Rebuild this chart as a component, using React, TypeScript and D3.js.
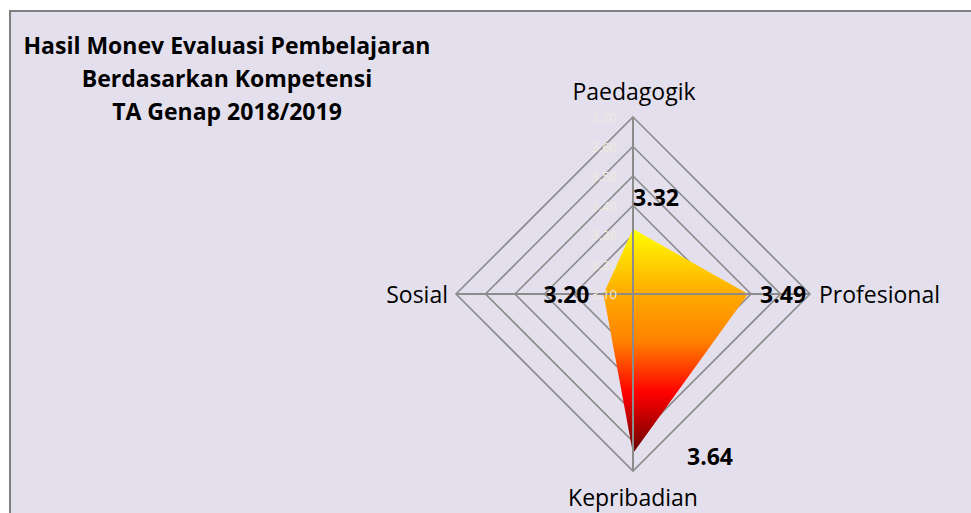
import React from "react";
import * as d3 from "d3";

const categories = ["Paedagogik", "Profesional", "Kepribadian", "Sosial"];
const values = [3.32, 3.49, 3.64, 3.2];
const valueLabels = ["3.32", "3.49", "3.64", "3.20"];
const ticks = [3.1, 3.2, 3.3, 3.4, 3.5, 3.6, 3.7];
const titleLines = ["Hasil Monev Evaluasi Pembelajaran", "Berdasarkan Kompetensi", "TA Genap 2018/2019"];

const W = 971;
const H = 513;
const cx = 633;
const cy = 294;
const R = 177;

export default function App() {
  const r = d3.scaleLinear().domain([3.1, 3.7]).range([0, R]);
  const angle = d3
    .scalePoint<string>()
    .domain(categories)
    .range([0, 2 * Math.PI * (categories.length - 1) / categories.length]);
  const pt = (cat: string, v: number): [number, number] => {
    const a = angle(cat)!;
    return [cx + r(v) * Math.sin(a), cy - r(v) * Math.cos(a)];
  };
  const lineGen = d3.line().curve(d3.curveLinearClosed);
  const grid = ticks.filter((t) => t > 3.1);

  const dataPts = categories.map((c, i) => pt(c, values[i]));

  const dataLabelPos: [number, number][] = [
    [dataPts[0][0] + 23, dataPts[0][1] - 32],
    [dataPts[1][0] + 35, dataPts[1][1]],
    [dataPts[2][0] + 77, dataPts[2][1] + 3],
    [dataPts[3][0] - 37, dataPts[3][1]],
  ];
  const catPos: [number, number, string][] = [
    [cx + 1, cy - R - 26, "middle"],
    [cx + R + 9, cy, "start"],
    [cx, cy + R + 26, "middle"],
    [cx - R - 8, cy, "end"],
  ];

  return (
    <svg
      width={W}
      height={H}
      style={{ position: "absolute", left: 0, top: 0, display: "block" }}
      fontFamily="'Open Sans', Lato, sans-serif"
    >
      <defs>
        <linearGradient id="fillGrad" x1="0" y1="0" x2="0" y2="1">
          <stop offset="0" stopColor="#FFFF00" />
          <stop offset="0.29" stopColor="#FFAA00" />
          <stop offset="0.5" stopColor="#FF8200" />
          <stop offset="0.73" stopColor="#FF0000" />
          <stop offset="1" stopColor="#660000" />
        </linearGradient>
      </defs>
      <rect x={0} y={0} width={W} height={H} fill="#ffffff" />
      <rect x={10} y={11} width={W + 10} height={H + 10} fill="#E4DFEC" stroke="#7f7f7f" strokeWidth={2} />

      {titleLines.map((t, i) => (
        <text
          key={t}
          x={227}
          y={45 + i * 33}
          textAnchor="middle"
          dominantBaseline="central"
          fontWeight="bold"
          fontSize={23}
          fill="#000"
        >
          {t}
        </text>
      ))}

      {grid.map((t) => (
        <path
          key={t}
          d={lineGen(categories.map((c) => pt(c, t)))!}
          fill="none"
          stroke="#8c8c8c"
          strokeWidth={1.6}
        />
      ))}

      <path d={lineGen(dataPts)!} fill="url(#fillGrad)" stroke="none" />

      {categories.map((c) => {
        const [x, y] = pt(c, 3.7);
        return <line key={c} x1={cx} y1={cy} x2={x} y2={y} stroke="#8c8c8c" strokeWidth={2} />;
      })}

      {ticks.map((t) => (
        <text
          key={t}
          x={cx - 16}
          y={cy - r(t)}
          textAnchor="end"
          dominantBaseline="central"
          fontSize={13}
          fill="#EFEBDD"
        >
          {t.toFixed(2)}
        </text>
      ))}

      {categories.map((c, i) => (
        <text
          key={c}
          x={catPos[i][0]}
          y={catPos[i][1]}
          textAnchor={catPos[i][2] as any}
          dominantBaseline="central"
          fontSize={23}
          fill="#000"
        >
          {c}
        </text>
      ))}

      {valueLabels.map((v, i) => (
        <text
          key={i}
          x={dataLabelPos[i][0]}
          y={dataLabelPos[i][1]}
          textAnchor="middle"
          dominantBaseline="central"
          fontWeight="bold"
          fontSize={23}
          fill="#000"
        >
          {v}
        </text>
      ))}
    </svg>
  );
}
